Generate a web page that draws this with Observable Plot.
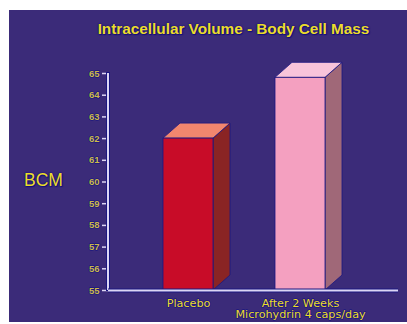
<!DOCTYPE html>
<html>
<head>
<meta charset="utf-8">
<script src="https://cdn.jsdelivr.net/npm/d3@7"></script>
<script src="https://cdn.jsdelivr.net/npm/@observablehq/plot@0.6"></script>
<style>
  html, body { margin: 0; padding: 0; background: #ffffff; }
  #panel { position: absolute; left: 9px; top: 10px; width: 398px; height: 312px; background: #3b2b79; overflow: hidden; }
  #panel svg { position: absolute; left: 0; top: 0; overflow: visible; }
  .yellow { position: absolute; color: #ecdc2a; white-space: nowrap;
    text-shadow: 0 0 1px #14107a, 0 0 2px #14107a, 1px 1px 1px #14107a; }
  #title { left: 224.5px; top: 10px; transform: translateX(-50%); font: bold 15.3px "Liberation Sans", Arial, sans-serif; }
  #ylabel { left: 15px; top: 160px; font: 17.5px "Liberation Sans", Arial, sans-serif; }
</style>
</head>
<body>
<div id="panel">
  <div id="title" class="yellow">Intracellular Volume - Body Cell Mass</div>
  <div id="ylabel" class="yellow">BCM</div>
</div>
<script>
// ---- data ----
const categories = ["Placebo", "After 2 Weeks\nMicrohydrin 4 caps/day"];
const bcmValues = [62.0, 64.8];
const yTicks = [55, 56, 57, 58, 59, 60, 61, 62, 63, 64, 65];
const yDomain = [55, 65];

// ---- styles ----
const faceColors = {
  front: ["#c80c28", "#f4a0c0"],
  side: ["#8a2424", "#a06878"],
  top: ["#f2866e", "#f8c4da"]
};
const yellow = "#ecdc2a";
const tickYellow = "#cbb84a";
const axisColor = "#dcd6f4";
const outline = "#1a1680";
const depthX = 17, depthY = -15;

const data = categories.map((c, i) => ({cat: c, value: bcmValues[i], idx: i}));

function faces(index, scales, values, dims, context) {
  const g = d3.create("svg:g");
  const bw = scales.x.bandwidth();
  for (const i of index) {
    const d = data[i];
    const x0 = scales.x(d.cat), x1 = x0 + bw;
    const yTop = scales.y(d.value), yBase = scales.y(yDomain[0]);
    g.append("polygon")
      .attr("points", [[x1, yTop], [x1 + depthX, yTop + depthY], [x1 + depthX, yBase + depthY], [x1, yBase]].join(" "))
      .attr("fill", faceColors.side[d.idx]).attr("stroke", outline).attr("stroke-width", 0.8).attr("stroke-linejoin", "round");
    g.append("polygon")
      .attr("points", [[x0, yTop], [x0 + depthX, yTop + depthY], [x1 + depthX, yTop + depthY], [x1, yTop]].join(" "))
      .attr("fill", faceColors.top[d.idx]).attr("stroke", outline).attr("stroke-width", 0.8).attr("stroke-linejoin", "round");
    g.append("rect")
      .attr("x", x0).attr("y", yTop).attr("width", bw).attr("height", yBase - yTop)
      .attr("fill", faceColors.front[d.idx]).attr("stroke", outline).attr("stroke-width", 0.8);
  }
  return g.node();
}

// y axis domain line drawn at the left edge of the frame, from the y scale
function yAxisLine(index, scales, values, dims) {
  const g = d3.create("svg:g");
  const x = dims.marginLeft;
  const y1 = scales.y(yDomain[0]), y2 = scales.y(yDomain[1]);
  g.append("line").attr("x1", x).attr("x2", x).attr("y1", y1 + 1).attr("y2", y2 - 1)
    .attr("stroke", outline).attr("stroke-width", 4);
  g.append("line").attr("x1", x).attr("x2", x).attr("y1", y1).attr("y2", y2)
    .attr("stroke", axisColor).attr("stroke-width", 2);
  return g.node();
}

const plot = Plot.plot({
  width: 398,
  height: 312,
  marginLeft: 99,
  marginRight: 9,
  marginTop: 63,
  marginBottom: 32,
  style: {background: "transparent", overflow: "visible"},
  x: {domain: categories, range: [154, 316.5], paddingInner: 0.556, paddingOuter: 0, axis: null},
  y: {domain: yDomain, axis: null},
  marks: [
    Plot.barY(data, {x: "cat", y1: () => yDomain[0], y2: "value", render: faces}),
    Plot.axisY({ticks: yTicks, tickSize: 6, tickPadding: 3, stroke: axisColor, strokeWidth: 1.5,
      fill: tickYellow, fontSize: 9.5, fontWeight: "bold", fontFamily: "Liberation Sans, Arial, sans-serif",
      textStroke: outline, textStrokeWidth: 1.5, label: null}),
    Plot.ruleY([yDomain[0]], {render: yAxisLine}),
    // x axis baseline
    Plot.ruleY([yDomain[0]], {stroke: outline, strokeWidth: 4}),
    Plot.ruleY([yDomain[0]], {stroke: axisColor, strokeWidth: 2}),
    // x labels
    Plot.text(data, {x: "cat", text: "cat", frameAnchor: "bottom", dy: 8, lineAnchor: "top", lineHeight: 1.02,
      fill: yellow, stroke: outline, strokeWidth: 1.5, fontSize: 11.2, fontFamily: "DejaVu Sans, sans-serif"})
  ]
});
document.getElementById("panel").appendChild(plot);
</script>
</body>
</html>
